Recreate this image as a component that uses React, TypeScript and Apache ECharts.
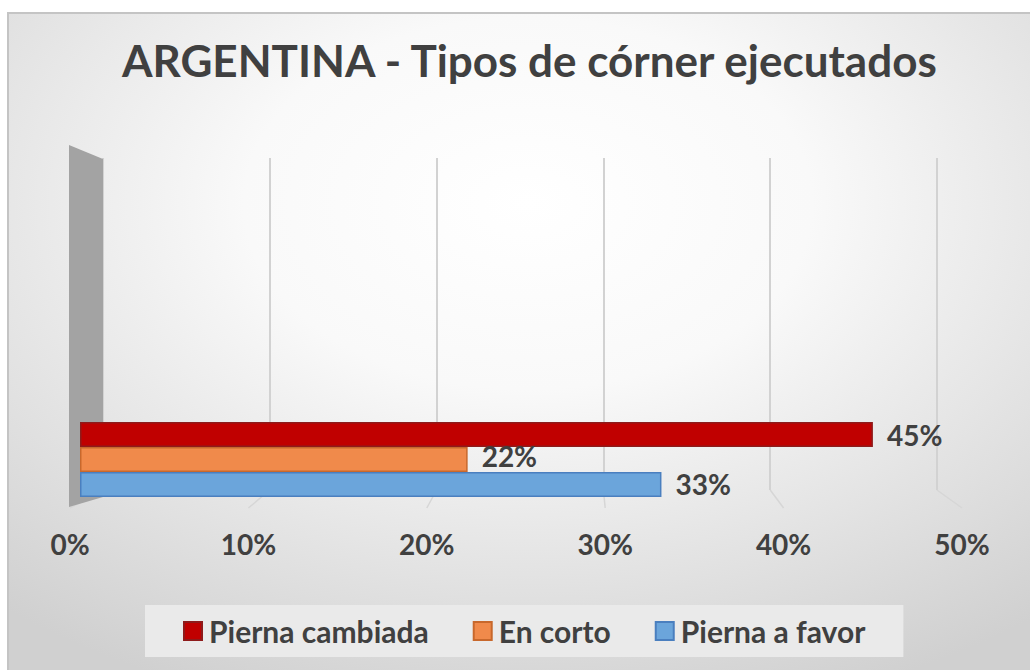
import React, { useEffect, useRef } from "react";
import * as echarts from "echarts";

const titleText = "ARGENTINA - Tipos de córner ejecutados";
const categories = ["ARGENTINA"];
const seriesNames = ["Pierna cambiada", "En corto", "Pierna a favor"];
const seriesValues = [45, 22, 33];
const tickValues = [0, 10, 20, 30, 40, 50];

const colors = ["#c00000", "#f08a4b", "#6ba5db"];
const borders = ["#8e1b1b", "#c8682c", "#4a7fbf"];
const labelOffsets = [[0, 0], [0, -4], [0, -1]];
const legendTextPadRight = [0, 11, 0];

export default function App() {
  const ref = useRef<HTMLDivElement>(null);
  useEffect(() => {
    if (!ref.current) return;
    const chart = echarts.init(ref.current, null, { renderer: "svg" });
    const font = "Lato";
    const option: any = {
      animation: false,
      graphic: [
        {
          type: "rect",
          z: -10,
          silent: true,
          shape: { x: 8, y: 13, width: 1040, height: 680 },
          style: {
            fill: {
              type: "radial",
              x: 0.5,
              y: 0.28,
              r: 0.78,
              colorStops: [
                { offset: 0, color: "#ffffff" },
                { offset: 0.35, color: "#f9f9f9" },
                { offset: 1, color: "#d0d0d0" },
              ],
            },
            stroke: "#c4c4c4",
            lineWidth: 2,
          },
        },
        {
          type: "polygon",
          z: 3,
          silent: true,
          shape: {
            points: [
              [69, 145],
              [103, 159],
              [103, 497],
              [69, 507],
            ],
          },
          style: { fill: "#a3a3a3" },
        },
      ],
      title: {
        text: titleText,
        left: 117,
        top: 33,
        textStyle: { fontFamily: font, fontWeight: "bold", fontSize: 44, color: "#404040" },
      },
      legend: {
        data: seriesNames.map((name, i) => ({
          name,
          textStyle: { padding: [0, legendTextPadRight[i], 0, 2] },
        })),
        left: 145,
        top: 605,
        orient: "horizontal",
        icon: "rect",
        itemWidth: 18,
        itemHeight: 18,
        itemGap: 44,
        padding: [11, 38, 11, 38],
        backgroundColor: "#eaeaea",
        textStyle: { fontFamily: font, fontWeight: "bold", fontSize: 30, color: "#404040" },
      },
      grid: [
        { left: 80, top: 422, width: 881, height: 75 },
        { left: 103, top: 158, width: 834, height: 332 },
        { left: 70, top: 498, width: 892, height: 10 },
      ],
      xAxis: [
        { gridIndex: 0, type: "value", min: 0, max: 50, interval: 10, show: false },
        {
          gridIndex: 1,
          type: "value",
          min: 0,
          max: 50,
          interval: 10,
          axisLine: { show: false },
          axisTick: { show: false },
          axisLabel: { show: false },
          splitLine: { show: true, lineStyle: { color: "#d2d2d2", width: 2 } },
        },
        {
          gridIndex: 2,
          type: "value",
          min: 0,
          max: 50,
          interval: 10,
          axisLine: { show: false },
          axisTick: { show: false },
          splitLine: { show: false },
          axisLabel: {
            formatter: "{value}%",
            fontFamily: font,
            fontWeight: "bold",
            fontSize: 28,
            color: "#404040",
            margin: 22,
          },
        },
      ],
      yAxis: [
        { gridIndex: 0, type: "category", data: categories, show: false },
        { gridIndex: 1, type: "value", min: 0, max: 1, show: false },
        { gridIndex: 2, type: "value", min: 0, max: 1, show: false },
      ],
      series: [
        ...seriesNames.map((name, i) => ({
          name,
          type: "bar",
          xAxisIndex: 0,
          yAxisIndex: 0,
          z: 5,
          barGap: "0%",
          barCategoryGap: "0%",
          data: [seriesValues[i]],
          itemStyle: { color: colors[i], borderColor: borders[i], borderWidth: 1.5 },
          label: {
            show: true,
            position: "right",
            distance: 14,
            offset: labelOffsets[i],
            formatter: "{c}%",
            fontFamily: font,
            fontWeight: "bold",
            fontSize: 28,
            color: "#404040",
          },
        })),
        {
          type: "custom",
          xAxisIndex: 1,
          yAxisIndex: 1,
          silent: true,
          z: 1,
          data: tickValues.map((v) => [v, 0]),
          renderItem: (params: any, api: any) => {
            const v = api.value(0);
            const back = api.coord([v, 0]);
            let front: any = null;
            try {
              front = chart.convertToPixel({ gridIndex: 2 } as any, [v, 0]);
            } catch (e) {
              front = null;
            }
            if (!front) return null;
            return {
              type: "line",
              shape: { x1: back[0], y1: back[1], x2: front[0], y2: front[1] },
              style: { stroke: "#d6d6d6", lineWidth: 1.5 },
            };
          },
        },
      ],
    };
    chart.setOption(option);
    return () => chart.dispose();
  }, []);
  return (
    <div
      ref={ref}
      style={{ position: "fixed", left: 0, top: 0, width: 1030, height: 670, background: "#ffffff" }}
    />
  );
}
